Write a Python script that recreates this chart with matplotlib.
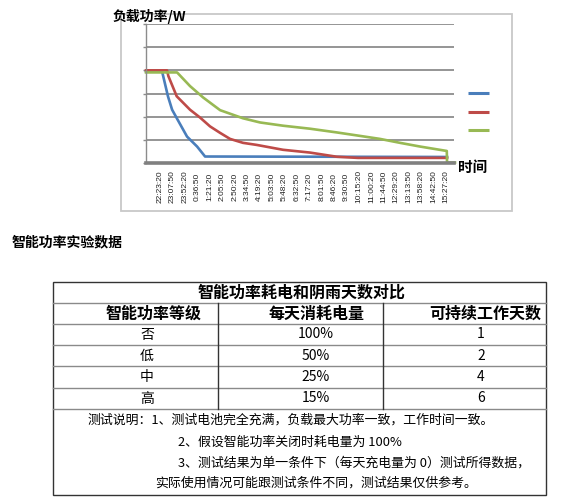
import matplotlib
matplotlib.use("Agg")
import matplotlib.pyplot as plt
from matplotlib.patches import Rectangle

plt.rcParams['font.family'] = ['Noto Sans CJK SC', 'DejaVu Sans']

W, H = 573, 503

# ─── Chart data ───────────────────────────────────────────────────────────────
time_labels = ["22:23:20", "23:07:50", "23:52:20", "0:36:50", "1:21:20", "2:05:50",
               "2:50:20", "3:34:50", "4:19:20", "5:03:50", "5:48:20", "6:32:50",
               "7:17:20", "8:01:50", "8:46:20", "9:30:50", "10:15:20", "11:00:20",
               "11:44:50", "12:29:20", "13:13:50", "13:58:20", "14:42:50", "15:27:20"]

# x measured in category-label steps, y in gridline units
blue_x = [-1.13, 0.16, 0.64, 0.97, 1.37, 2.17, 2.98, 3.62, 23.08]
blue_y = [3.96, 3.96, 2.87, 2.30, 1.91, 1.14, 0.71, 0.28, 0.26]

red_x = [-1.13, 0.56, 0.67, 1.34, 2.41, 3.22, 4.02, 4.83, 5.63, 6.67, 7.78,
         9.89, 12.06, 14.21, 15.92, 23.08]
red_y = [4.00, 4.00, 3.75, 2.88, 2.30, 1.96, 1.58, 1.30, 1.04, 0.87, 0.78,
         0.57, 0.45, 0.27, 0.22, 0.22]

green_x = [-1.13, 1.37, 2.41, 3.46, 4.83, 6.67, 8.04, 9.89, 12.06, 14.21,
           16.08, 17.69, 19.30, 20.91, 23.06, 23.08, 23.72]
green_y = [3.91, 3.91, 3.32, 2.83, 2.28, 1.93, 1.75, 1.61, 1.48, 1.32,
           1.17, 1.04, 0.87, 0.71, 0.52, 0.02, 0.02]

series = [(blue_x, blue_y, "#4A7EBB"),
          (red_x, red_y, "#BE4B48"),
          (green_x, green_y, "#98B954")]

# ─── Table data ───────────────────────────────────────────────────────────────
heading = "智能功率实验数据"
table_title = "智能功率耗电和阴雨天数对比"
col_headers = ["智能功率等级", "每天消耗电量", "可持续工作天数"]
levels = ["否", "低", "中", "高"]
consumption = ["100%", "50%", "25%", "15%"]
work_days = [1, 2, 4, 6]
notes = ["测试说明：1、测试电池完全充满，负载最大功率一致，工作时间一致。",
         "2、假设智能功率关闭时耗电量为 100%",
         "3、测试结果为单一条件下（每天充电量为 0）测试所得数据，",
         "实际使用情况可能跟测试条件不同，测试结果仅供参考。"]

fig = plt.figure(figsize=(W / 100, H / 100), dpi=100)
bg = fig.add_axes([0, 0, 1, 1])
bg.set_xlim(0, W)
bg.set_ylim(H, 0)
bg.axis("off")

# chart frame
bg.add_patch(Rectangle((121, 14), 391, 197, fill=False, ec="#c8c8c8", lw=1.3))
bg.text(113, 16, "负载功率/W", fontsize=10, fontweight="bold", va="center", ha="left")
bg.text(458, 167, "时间", fontsize=10.5, fontweight="bold", va="center", ha="left")
for (_, _, c), y in zip(series, [93, 112, 130]):
    bg.plot([468, 489], [y, y], color=c, lw=2.2, solid_capstyle="butt")

# ─── Line chart ───────────────────────────────────────────────────────────────
ax = fig.add_axes([146 / W, 1 - 163 / H, 308 / W, 139 / H])
ax.set_facecolor("none")
for xs, ys, c in series:
    ax.plot(xs, ys, color=c, lw=1.9, solid_joinstyle="round", clip_on=False)
ax.set_xlim(-1.13, 23.64)
ax.set_ylim(0, 6)
ax.set_yticks(range(7))
ax.set_yticklabels([])
ax.yaxis.grid(True, color="#8c8c8c", lw=1.3)
ax.set_axisbelow(True)
ax.tick_params(axis="y", length=2.5, color="#8c8c8c", width=1)
ax.set_xticks(range(len(time_labels)))
ax.set_xticklabels(time_labels, rotation=90, fontsize=6, family="Liberation Sans",
                   color="#222222")
ax.tick_params(axis="x", length=0, pad=17)
for lbl in ax.get_xticklabels():
    lbl.set_verticalalignment("center")
for s in ["top", "right"]:
    ax.spines[s].set_visible(False)
ax.spines["left"].set_color("#8c8c8c")
ax.spines["left"].set_linewidth(1)
ax.spines["bottom"].set_color("#808080")
ax.spines["bottom"].set_linewidth(2.6)

# ─── Heading + table ──────────────────────────────────────────────────────────
bg.text(12, 242, heading, fontsize=10, fontweight="bold", va="center", ha="left")

left, right = 53, 546
row_lines = [282, 303, 324, 345, 366, 388, 409, 495]
col_div = [218, 383]
bg.add_patch(Rectangle((left, row_lines[0]), right - left, row_lines[-1] - row_lines[0],
                       fill=False, ec="#333333", lw=1))
for y in row_lines[1:-1]:
    bg.plot([left, right], [y, y], color="#8a8a8a", lw=1)
for x in col_div:
    bg.plot([x, x], [row_lines[1], row_lines[6]], color="#333333", lw=1)

bg.text(302, 292.5, table_title, fontsize=11.5, fontweight="bold", ha="center", va="center")
for x, t in zip([153.5, 316.5, 485.5], col_headers):
    bg.text(x, 313.5, t, fontsize=11.5, fontweight="bold", ha="center", va="center")
for i in range(len(levels)):
    yc = (row_lines[i + 2] + row_lines[i + 3]) / 2
    bg.text(147, yc, levels[i], fontsize=10, ha="center", va="center")
    bg.text(315.5, yc, consumption[i], fontsize=10, ha="center", va="center")
    bg.text(481, yc, str(work_days[i]), fontsize=10, ha="center", va="center")

bg.text(291, 420, notes[0], fontsize=9.3, ha="center", va="center")
bg.text(178, 442, notes[1], fontsize=9.3, ha="left", va="center")
bg.text(178, 463, notes[2], fontsize=9.3, ha="left", va="center")
bg.text(316, 483, notes[3], fontsize=9.3, ha="center", va="center")

fig.savefig("out.png", dpi=100)
